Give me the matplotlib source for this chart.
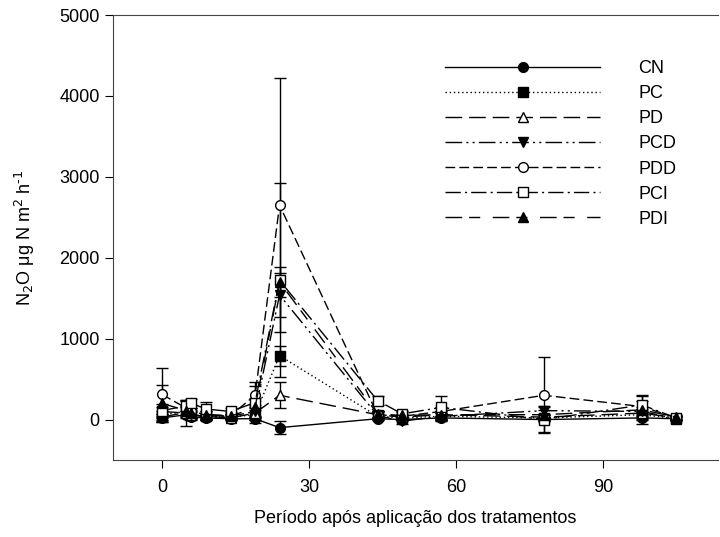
import numpy as np
import matplotlib
matplotlib.use('Agg')
import matplotlib.pyplot as plt

plt.rcParams['font.family'] = ['Liberation Sans', 'DejaVu Sans']
plt.rcParams['font.size'] = 13

## ---------------------------- DATOS ---------------------------- ##
dias = [0, 5, 6, 9, 14, 19, 24, 44, 49, 57, 78, 98, 105]

CN  = [20, 60, 30, 20, 10, 10, -100, 10, 0, 20, 0, 20, 10]
PC  = [60, 100, 60, 40, 30, 60, 790, 40, 20, 40, 20, 60, 10]
PD  = [100, 80, 50, 40, 20, 80, 300, 60, 30, 60, 30, 80, 20]
PCD = [30, 90, 70, 30, 40, 100, 1540, 50, -20, 40, 110, 100, 10]
PDD = [310, 140, 100, 60, 50, 300, 2650, 60, 40, 100, 300, 160, 20]
PCI = [110, 170, 200, 130, 100, 210, 1720, 235, 70, 150, 0, 180, 20]
PDI = [200, 110, 80, 60, 40, 150, 1700, 70, 50, 60, 60, 120, 30]

err_CN  = [45, 40, 30, 20, 20, 20, 80, 20, 20, 20, 20, 30, 20]
err_PC  = [40, 50, 40, 30, 20, 60, 125, 30, 20, 40, 40, 50, 20]
err_PD  = [60, 160, 40, 30, 20, 60, 160, 40, 20, 50, 40, 50, 20]
err_PCD = [40, 60, 50, 30, 30, 60, 270, 40, 30, 40, 55, 60, 20]
err_PDD = [330, 100, 80, 50, 40, 120, 1570, 40, 30, 60, 470, 70, 20]
err_PCI = [80, 60, 60, 90, 40, 250, 1200, 50, 40, 140, 160, 110, 20]
err_PDI = [230, 60, 60, 40, 30, 120, 190, 40, 40, 80, 60, 180, 20]

series = [
    ('CN',  CN,  err_CN,  'o', 'k', '-'),
    ('PC',  PC,  err_PC,  's', 'k', (0, (1, 2))),
    ('PD',  PD,  err_PD,  '^', 'w', (0, (12, 5))),
    ('PCD', PCD, err_PCD, 'v', 'k', (0, (12, 3, 1.5, 3, 1.5, 3))),
    ('PDD', PDD, err_PDD, 'o', 'w', (0, (7, 3))),
    ('PCI', PCI, err_PCI, 's', 'w', (0, (11, 3, 1.5, 3))),
    ('PDI', PDI, err_PDI, '^', 'k', (0, (12, 5, 8, 9))),
]

fig = plt.figure(figsize=[7.2, 5.37], dpi=100)
ax = fig.add_axes([113/720, 1 - 460/537, (718 - 113)/720, (460 - 15)/537])

for nombre, y, e, mk, fc, ls in series:
    ax.errorbar(dias, y, yerr=e, fmt='none', ecolor='k', elinewidth=1, capsize=4.5, capthick=1)
for nombre, y, e, mk, fc, ls in series:
    ax.plot(dias, y, color='k', lw=1, linestyle=ls, marker=mk, markersize=7,
            markerfacecolor=fc, markeredgecolor='k', markeredgewidth=1, label=nombre)

ax.set_xlim(-10, 113.5)
ax.set_ylim(-500, 5000)
ax.set_xticks([0, 30, 60, 90])
ax.set_yticks([0, 1000, 2000, 3000, 4000, 5000])
ax.spines['right'].set_visible(False)
for s in ['left', 'bottom', 'top']:
    ax.spines[s].set_color('#444444')
ax.tick_params(direction='out', length=6, top=False, right=False)
ax.tick_params(axis='x', pad=8)

ax.set_xlabel(u'Período após aplicação dos tratamentos', labelpad=10)
ax.set_ylabel(u'N$_2$O μg N m$^2$ h$^{\\text{-}1}$', labelpad=16)

ax.legend(loc='upper left', bbox_to_anchor=(445/720, 1 - 60/537), bbox_transform=fig.transFigure,
          frameon=False, numpoints=1, handlelength=8.6, handletextpad=2.1,
          labelspacing=0.45, borderpad=0, borderaxespad=0)

plt.savefig('out.png', dpi=100)
